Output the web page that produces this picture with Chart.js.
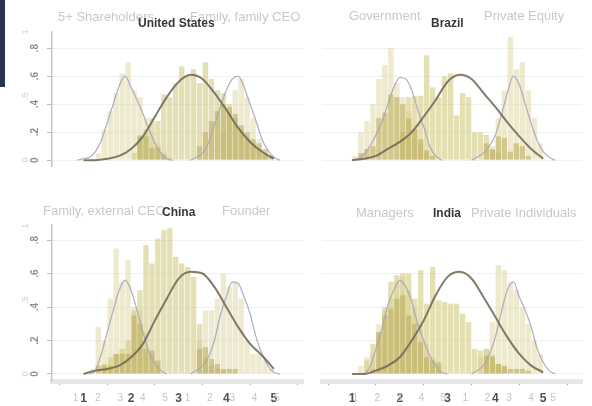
<!DOCTYPE html>
<html>
<head>
<meta charset="utf-8">
<script src="https://cdn.jsdelivr.net/npm/chart.js@4.4.1/dist/chart.umd.min.js"></script>
<style>
body{margin:0;background:#fff;width:592px;height:406px;overflow:hidden;font-family:"Liberation Sans",Arial,sans-serif}
#wrap{position:relative;width:592px;height:406px;filter:blur(0.45px)}
canvas{position:absolute}
.lab{position:absolute;color:#c8c8c8;font-size:13px;white-space:nowrap;line-height:1}
.ttl{position:absolute;color:#383838;font-weight:bold;font-size:12px;white-space:nowrap;line-height:1}
.strip{position:absolute;left:0;top:0;width:5px;height:87px;background:#2b3354}
</style>
</head>
<body>
<div id="wrap">
<div class="strip"></div>
<canvas id="cUS" width="305" height="200" style="left:0;top:0"></canvas>
<canvas id="cBR" width="287" height="200" style="left:305px;top:0"></canvas>
<canvas id="cCN" width="305" height="206" style="left:0;top:200px"></canvas>
<canvas id="cIN" width="287" height="206" style="left:305px;top:200px"></canvas>

<div class="lab" style="left:58px;top:10px">5+ Shareholders</div>
<div class="lab" style="left:190px;top:10px">Family, family CEO</div>
<div class="ttl" style="left:138px;top:17px">United States</div>
<div class="lab" style="left:349px;top:9px">Government</div>
<div class="lab" style="left:484px;top:9px">Private Equity</div>
<div class="ttl" style="left:431px;top:17px">Brazil</div>
<div class="lab" style="left:43px;top:204px">Family, external CEO</div>
<div class="ttl" style="left:162px;top:206px">China</div>
<div class="lab" style="left:222px;top:204px">Founder</div>
<div class="lab" style="left:356px;top:206px">Managers</div>
<div class="ttl" style="left:433px;top:207px">India</div>
<div class="lab" style="left:471px;top:206px">Private Individuals</div>
</div>

<script>
// histogram bin centres (bin width .125) and x positions of the density curves
const binCenters = [1.0625,1.1875,1.3125,1.4375,1.5625,1.6875,1.8125,1.9375,
  2.0625,2.1875,2.3125,2.4375,2.5625,2.6875,2.8125,2.9375,
  3.0625,3.1875,3.3125,3.4375,3.5625,3.6875,3.8125,3.9375,
  4.0625,4.1875,4.3125,4.4375,4.5625,4.6875,4.8125,4.9375];
const denseX = [1,1.25,1.5,1.75,2,2.25,2.5,2.75,3,3.25,3.5,3.75,4,4.25,4.5,4.75,5];

// tick labels
const xTickLabels = ['1','2','3','4','5'];
const xFaintValues = [1,2,3,4,5,6,7,8,9,10];
const xFaintLabels = ['1','2','3','4','5','1','2','3','4','5'];
const yTickValues = [0,0.2,0.4,0.6,0.8];
const yTickLabels = ['0','.2','.4','.6','.8'];
const yFaintValues = [0,0.5,1];
const yFaintLabels = ['0','.5','1'];

// United States
const usLight = [0,.01,.05,.22,.35,.48,.62,.70, .50,.45,.30,.20,.12,.06,.02,0, 0,0,0,0,0,0,0,0, 0,0,0,0,0,0,0,0];
const usMid   = [0,0,0,0,0,0,0,0, .05,.18,.22,.30,.28,.47,.45,.55, .67,.60,.65,.55,.70,.58,.50,.48, .40,.30,.22,.15,.12,.08,.04,0];
const usDark  = [0,0,0,0,0,0,0,0, 0,.17,.17,.09,.09,.04,0,0, 0,0,0,.10,.20,.28,.35,.40, .38,.33,.25,.20,.15,.12,.08,.03];
const usRight = [0,0,0,0,0,0,0,0, 0,0,0,0,0,0,0,0, 0,0,0,0,0,0,0,.20, .35,.50,.58,.45,.30,.15,.06,0];
const usDense = [0,0,.01,.03,.08,.17,.31,.45,.56,.61,.58,.48,.36,.23,.13,.06,.01];
const usLX = [0.875,1,1.125,1.25,1.375,1.5,1.625,1.75,1.875,2,2.125,2.25,2.375,2.5,2.625,2.75,2.875];
const usLY = [0,.01,.02,.06,.14,.27,.40,.53,.60,.52,.43,.33,.22,.12,.05,.01,0];
const usRX = [3.25,3.5,3.625,3.75,3.875,4,4.125,4.25,4.375,4.5,4.625,4.75,4.875,5,5.125];
const usRY = [0,.05,.12,.25,.38,.50,.58,.60,.52,.40,.28,.15,.07,.02,0];

// Brazil
const brLight = [.03,.20,.28,.40,.58,.68,.80,.55, .45,.35,.22,.12,.05,0,0,0, 0,0,0,0,0,0,0,0, 0,0,0,0,0,0,0,0];
const brMid   = [0,0,0,0,0,0,0,0, .20,.45,.46,.46,.75,.52,.45,.60, .62,.32,.48,.45,.20,.20,.18,.07, .05,0,0,0,0,0,0,0];
const brDark  = [0,.05,.08,.10,.30,.34,.47,.45, .40,.30,.22,.15,.07,.03,0,0, 0,0,0,0,0,0,.12,.08, .17,.16,.06,.12,.10,.03,0,0];
const brRight = [0,0,0,0,0,0,0,0, 0,0,0,0,0,0,0,0, 0,0,0,0,0,0,0,.10, .30,.50,.88,.65,.70,.50,.30,.12];
const brDense = [0,.01,.03,.08,.13,.20,.31,.43,.56,.61,.58,.48,.38,.27,.17,.08,.01];
const brLX = [1,1.125,1.25,1.375,1.5,1.625,1.75,1.875,2,2.125,2.25,2.375,2.5,2.625,2.75,2.875];
const brLY = [0,.01,.04,.10,.18,.27,.40,.52,.59,.58,.50,.36,.24,.10,.03,0];
const brRX = [3.5,3.75,3.875,4,4.125,4.25,4.375,4.5,4.625,4.75,4.875,5,5.125,5.25];
const brRY = [0,.05,.10,.18,.32,.48,.60,.54,.40,.26,.14,.06,.02,0];

// China
const cnLight = [0,.03,.28,.20,.45,.75,.55,.68, .40,.38,.25,.12,.05,0,0,0, 0,0,0,0,0,0,0,0, 0,0,0,0,0,0,0,0];
const cnMid   = [0,0,0,.06,.10,.12,.15,.20, .38,.50,.77,.66,.81,.86,.87,.70, .66,.64,.58,.30,.10,.05,.03,.02, 0,0,0,0,0,0,0,0];
const cnDark  = [0,0,.05,.05,.05,.12,.12,.12, .35,.30,.15,.14,.08,0,0,0, 0,0,0,.15,.16,.09,.06,.03, .03,.03,0,0,0,0,0,0];
const cnRight = [0,0,0,0,0,0,0,0, 0,0,0,0,0,0,0,0, 0,0,0,.20,.38,.38,.45,.60, .52,.55,.45,.20,.12,.12,.08,.03];
const cnDense = [0,.02,.03,.05,.10,.18,.32,.45,.57,.61,.60,.52,.40,.28,.18,.11,.03];
const cnLX = [1.125,1.25,1.375,1.5,1.625,1.75,1.875,2,2.125,2.25,2.375,2.5,2.625,2.75];
const cnLY = [0,.02,.12,.25,.38,.50,.56,.50,.38,.25,.13,.06,.02,0];
const cnRX = [3.25,3.5,3.625,3.75,3.875,4,4.125,4.25,4.375,4.5,4.625,4.75,4.875,5,5.125];
const cnRY = [0,.05,.10,.20,.35,.46,.55,.54,.46,.36,.22,.12,.05,.01,0];

// India
const inLight = [0,.05,.10,.12,.30,.38,.45,.55, .58,.50,.40,.30,.18,.10,.05,0, 0,0,0,0,0,0,0,0, 0,0,0,0,0,0,0,0];
const inMid   = [0,0,.08,.18,.25,.40,.55,.59, .60,.60,.45,.62,.42,.64,.44,.43, .42,.42,.36,.31,.15,.14,.15,.10, .06,.04,0,0,0,0,0,0];
const inDark  = [0,0,0,.03,.25,.35,.39,.45, .47,.35,.30,.19,.10,.08,.07,0, 0,0,0,0,0,0,.11,.11, .06,.05,.03,.03,.03,.02,0,0];
const inRight = [0,0,0,0,0,0,0,0, 0,0,0,0,0,0,0,0, 0,0,0,0,0,.10,.15,.31, .65,.62,.55,.50,.40,.30,.20,.12];
const inDense = [0,0,.02,.05,.10,.20,.32,.47,.58,.61,.57,.46,.34,.22,.12,.05,.01];
const inLX = [1.25,1.375,1.5,1.625,1.75,1.875,2,2.125,2.25,2.375,2.5,2.625,2.75,2.875,3];
const inLY = [0,.04,.15,.27,.41,.50,.56,.52,.43,.30,.20,.11,.05,.01,0];
const inRX = [3.5,3.75,3.875,4,4.125,4.25,4.375,4.5,4.625,4.75,4.875,5,5.125,5.25];
const inRY = [0,.05,.12,.22,.37,.50,.55,.46,.38,.28,.15,.07,.02,0];

const FONT = '"Liberation Sans", Arial, sans-serif';

function rotText(ctx, txt, x, y) {
    ctx.save();
    ctx.translate(x, y);
    ctx.rotate(-Math.PI / 2);
    ctx.fillText(txt, 0, 0);
    ctx.restore();
}

// faint overlaid tick labels + the rotated y labels
const tickText = {
    id: 'tickText',
    afterDraw(chart, args, o) {
        const ctx = chart.ctx;
        ctx.save();
        ctx.textAlign = 'center';
        ctx.textBaseline = 'middle';
        if (o.left) {
            ctx.font = '9px ' + FONT;
            ctx.fillStyle = '#cfcfcf';
            yFaintValues.forEach((v, i) => rotText(ctx, yFaintLabels[i], 26, chart.scales.y2.getPixelForValue(v)));
            ctx.font = 'bold 10px ' + FONT;
            ctx.fillStyle = '#8e8e8e';
            yTickValues.forEach((v, i) => rotText(ctx, yTickLabels[i], 35, chart.scales.y.getPixelForValue(v)));
        }
        if (o.bottom) {
            ctx.font = '10px ' + FONT;
            ctx.fillStyle = '#c4c4c4';
            xFaintValues.forEach((v, i) => ctx.fillText(xFaintLabels[i], chart.scales.x2.getPixelForValue(v), 198));
        }
        ctx.restore();
    }
};

const hist = (arr, color) => ({
    type: 'bar',
    data: binCenters.map((c, i) => ({x: c, y: arr[i]})),
    backgroundColor: color,
    borderWidth: 0,
    barPercentage: 0.9,
    categoryPercentage: 1,
    grouped: false
});
const curve = (xs, ys, color, w) => ({
    type: 'line',
    data: xs.map((x, i) => ({x: x, y: ys[i]})),
    borderColor: color,
    borderWidth: w,
    pointRadius: 0,
    cubicInterpolationMode: 'monotone',
    fill: false
});

const LIGHT = 'rgba(222,214,160,0.5)';
const MID = 'rgba(212,201,130,0.6)';
const DARK = 'rgba(190,176,96,0.6)';
const CURVE_D = 'rgba(112,100,84,0.85)';
const CURVE_L = 'rgba(168,163,188,0.85)';

function panel(id, p) {
    const datasets = [
        curve(denseX, p.dense, CURVE_D, 2),
        curve(p.lx, p.ly, CURVE_L, 1.3),
        curve(p.rx, p.ry, CURVE_L, 1.3),
        hist(p.dark, DARK),
        hist(p.mid, MID),
        hist(p.light, LIGHT),
        hist(p.right, LIGHT)
    ];
    const config = {
        type: 'bar',
        data: { datasets: datasets },
        options: {
            responsive: false,
            animation: false,
            layout: { padding: p.pad },
            plugins: {
                legend: { display: false },
                tooltip: { enabled: false },
                tickText: { left: p.left, bottom: p.bottom }
            },
            scales: {
                x: {
                    type: 'linear', min: p.xMin, max: p.xMax, display: p.bottom,
                    ticks: {
                        stepSize: 1, includeBounds: false, maxRotation: 0, padding: 6,
                        color: '#505050', font: { family: FONT, size: 12, weight: 'bold' },
                        callback: v => xTickLabels[Math.round(v) - 1]
                    },
                    grid: { drawOnChartArea: false, tickLength: 4, tickColor: '#9a9a9a' },
                    border: { color: '#e6e6e6', width: 5 },
                    afterFit: s => { s.height = 25; }
                },
                x2: { type: 'linear', display: false, min: p.x2Min, max: p.x2Max },
                y: {
                    type: 'linear', min: p.yMin, max: p.yMax,
                    ticks: { stepSize: 0.2, includeBounds: false, display: false },
                    grid: { color: '#f0f0f0', drawTicks: p.left, tickLength: 5, tickColor: '#bdbdbd' },
                    border: { display: p.left, color: '#c6c6c6', width: 1.5 },
                    afterFit: s => { s.width = p.yWidth; }
                },
                y2: { type: 'linear', display: false, min: p.y2Min, max: p.y2Max }
            }
        },
        plugins: [tickText]
    };
    return new Chart(document.getElementById(id), config);
}

const topY = { yMin: -0.042, yMax: 0.916, y2Min: -0.046, y2Max: 1 };
const botY = { yMin: -0.042, yMax: 0.89, y2Min: -0.047, y2Max: 1.007 };
const leftX = { xMin: 0.866, xMax: 5.084, x2Min: 1.071, x2Max: 10.04, yWidth: 52, left: true };
const rightX = { xMin: 0.916, xMax: 5.268, x2Min: 0.673, x2Max: 10.13, yWidth: 17, left: false };

panel('cUS', Object.assign({}, topY, leftX, { bottom: false, pad: {top: 32, right: 2, bottom: 9, left: 0},
    light: usLight, mid: usMid, dark: usDark, right: usRight, dense: usDense, lx: usLX, ly: usLY, rx: usRX, ry: usRY }));
panel('cBR', Object.assign({}, topY, rightX, { bottom: false, pad: {top: 32, right: 10, bottom: 9, left: 0},
    light: brLight, mid: brMid, dark: brDark, right: brRight, dense: brDense, lx: brLX, ly: brLY, rx: brRX, ry: brRY }));
panel('cCN', Object.assign({}, botY, leftX, { bottom: true, pad: {top: 25, right: 2, bottom: 0, left: 0},
    light: cnLight, mid: cnMid, dark: cnDark, right: cnRight, dense: cnDense, lx: cnLX, ly: cnLY, rx: cnRX, ry: cnRY }));
panel('cIN', Object.assign({}, botY, rightX, { bottom: true, pad: {top: 25, right: 10, bottom: 0, left: 0},
    light: inLight, mid: inMid, dark: inDark, right: inRight, dense: inDense, lx: inLX, ly: inLY, rx: inRX, ry: inRY }));
</script>
</body>
</html>
